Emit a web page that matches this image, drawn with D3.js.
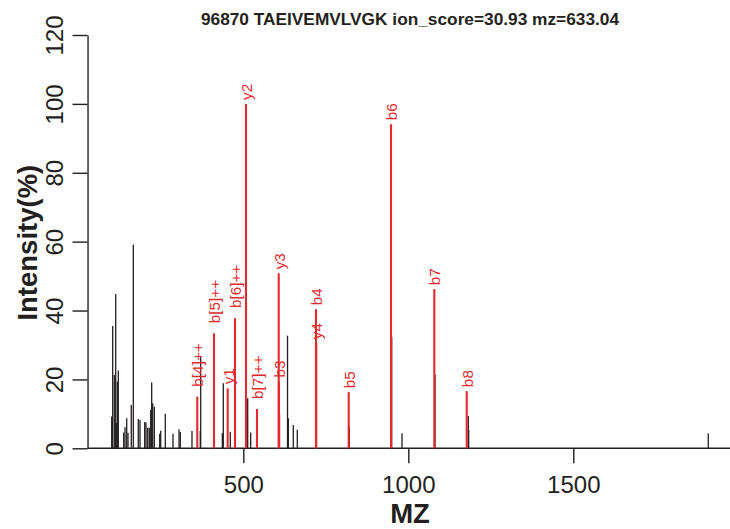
<!DOCTYPE html>
<html>
<head>
<meta charset="utf-8">
<script src="https://cdn.jsdelivr.net/npm/d3@7"></script>
<style>
  html, body { margin: 0; padding: 0; background: #ffffff; }
  svg { display: block; }
  text { font-family: "Liberation Sans", Arial, sans-serif; }
</style>
</head>
<body>
<svg id="chart" width="730" height="529"></svg>
<script>
// ---- data ----
const titleText = "96870 TAEIVEMVLVGK ion_score=30.93 mz=633.04";
const xTicks = [500, 1000, 1500];
const yTicks = [0, 20, 40, 60, 80, 100, 120];
const xLimits = [28, 1981];

// unmatched (black) peaks
const peakMz = [101.2, 104.2, 109.1, 113.3, 115.2, 118.2, 121.2, 137.6, 141.5, 146.7,
  150.6, 160.6, 166.7, 181.8, 187.0, 201.2, 205.2, 210.3, 215.2, 219.4,
  222.4, 225.5, 230.3, 246.7, 249.7, 263.6, 287.0, 305.2, 309.1, 344.5,
  369.7, 370.9, 436.4, 439.4, 460.6, 513.3, 522.4, 609.8, 634.0, 636.4,
  651.5, 663.6, 821.2, 949.7, 980.9, 1080.9, 1181.8, 1183.0, 1909.0];
const peakIntensity = [9.2, 35.5, 21.3, 44.8, 7.3, 19.4, 22.6, 4.6, 6.1, 8.7,
  4.5, 12.6, 59.2, 8.5, 8.2, 7.6, 7.5, 6.0, 6.0, 11.1,
  19.1, 13.1, 12.1, 4.2, 5.1, 10.0, 4.2, 5.5, 4.7, 5.0,
  5.0, 26.4, 4.4, 18.9, 4.8, 14.5, 4.6, 9.6, 32.7, 8.7,
  6.8, 5.4, 6.3, 32.4, 4.4, 21.3, 9.4, 5.3, 4.4];

// matched (red) fragment ions
const ionLabels = ["b[4]++", "b[5]++", "y1", "b[6]++", "y2", "b[7]++", "b3", "y3", "y4", "b4", "b5", "b6", "b7", "b8"];
const ionMz = [360.6, 411.2, 452.7, 474.8, 508.2, 541.5, 608.0, 607.3, 721.0, 720.3, 819.4, 947.6, 1078.8, 1177.0];
const ionIntensity = [15.0, 33.4, 17.4, 37.8, 100.0, 11.4, 19.4, 50.8, 30.5, 40.4, 16.3, 94.1, 46.2, 16.6];

// ---- drawing ----
const svg = d3.select("#chart");
const ink = "#231f20";
const red = "#e4292d";

const x = d3.scaleLinear().domain([0, 2000]).range([78.3, 738.3]);
const y = d3.scaleLinear().domain([0, 120]).range([448.3, 35]);

// title
svg.append("text")
  .attr("x", 410).attr("y", 25)
  .attr("text-anchor", "middle")
  .attr("font-weight", "bold")
  .attr("font-size", 17.3)
  .attr("fill", ink)
  .text(titleText);

// zero baseline
svg.append("line")
  .attr("x1", x(xLimits[0])).attr("x2", x(xLimits[1]))
  .attr("y1", y(0)).attr("y2", y(0))
  .attr("stroke", ink).attr("stroke-width", 1.4);

// black peaks
const blackPeaks = peakMz.map((m, i) => ({ mz: m, v: peakIntensity[i] }));
svg.append("g").selectAll("line").data(blackPeaks).join("line")
  .attr("x1", d => x(d.mz)).attr("x2", d => x(d.mz))
  .attr("y1", y(0)).attr("y2", d => y(d.v))
  .attr("stroke", ink).attr("stroke-width", 1.3);

// red peaks
const ions = ionLabels.map((l, i) => ({ label: l, mz: ionMz[i], v: ionIntensity[i] }));
svg.append("g").selectAll("line").data(ions).join("line")
  .attr("x1", d => x(d.mz)).attr("x2", d => x(d.mz))
  .attr("y1", y(0)).attr("y2", d => y(d.v))
  .attr("stroke", red).attr("stroke-width", 2.1);

// red labels (doubly charged labels sit a little higher)
svg.append("g").selectAll("text").data(ions).join("text")
  .attr("transform", d => `translate(${x(d.mz)},${y(d.v) - (d.label.includes("++") ? 10 : 4)}) rotate(-90)`)
  .attr("dy", "0.4em")
  .attr("text-anchor", "start")
  .attr("font-size", 15.3)
  .attr("fill", red)
  .text(d => d.label);

// x axis
const gx = svg.append("g")
  .attr("transform", `translate(0,${y(0)})`)
  .call(d3.axisBottom(x).tickValues(xTicks).tickSize(15).tickFormat(d3.format("d")));
gx.select(".domain").remove();
gx.selectAll(".tick line").attr("stroke", ink).attr("stroke-width", 1.4);
gx.selectAll(".tick text")
  .attr("fill", ink)
  .attr("font-size", 24)
  .attr("font-family", "Liberation Sans, Arial, sans-serif")
  .attr("y", 0).attr("dy", 0)
  .attr("transform", "translate(0,44.4)");

// y axis
const gy = svg.append("g")
  .attr("transform", `translate(${x(xLimits[0])},0)`)
  .call(d3.axisLeft(y).tickValues(yTicks).tickSize(15).tickSizeOuter(0));
gy.select(".domain").attr("stroke", ink).attr("stroke-width", 1.4);
gy.selectAll(".tick line").attr("stroke", ink).attr("stroke-width", 1.4);
gy.selectAll(".tick text")
  .attr("fill", ink)
  .attr("font-size", 24)
  .attr("font-family", "Liberation Sans, Arial, sans-serif")
  .attr("x", 0).attr("dy", 0)
  .attr("text-anchor", "middle")
  .attr("transform", "translate(-24.2,0) rotate(-90)");

// axis titles
svg.append("text")
  .attr("x", 410).attr("y", 523)
  .attr("text-anchor", "middle")
  .attr("font-weight", "bold")
  .attr("font-size", 27.5)
  .attr("fill", ink)
  .text("MZ");

svg.append("text")
  .attr("transform", `translate(37,${(y(0) + y(120)) / 2 + 1}) rotate(-90)`)
  .attr("text-anchor", "middle")
  .attr("font-weight", "bold")
  .attr("font-size", 27.5)
  .attr("fill", ink)
  .text("Intensity(%)");
</script>
</body>
</html>
